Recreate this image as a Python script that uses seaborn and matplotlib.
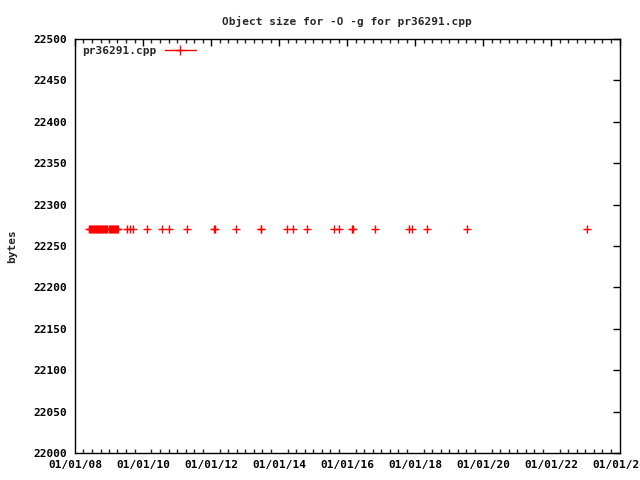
import matplotlib
matplotlib.use("Agg")
import matplotlib.pyplot as plt
import matplotlib.dates as mdates
from matplotlib.lines import Line2D
import seaborn as sns
import pandas as pd

dates = [
    "2008-06-01", "2008-06-11", "2008-06-21", "2008-07-01", "2008-07-11",
    "2008-07-21", "2008-07-31", "2008-08-10", "2008-08-20", "2008-08-30",
    "2008-09-09", "2008-09-19", "2008-09-29", "2008-10-09", "2008-10-19",
    "2008-10-29", "2008-11-08", "2008-11-18", "2008-11-28", "2008-12-10",
    "2009-01-02", "2009-01-12", "2009-01-22", "2009-02-01", "2009-02-11",
    "2009-02-21", "2009-03-03", "2009-03-13", "2009-03-23", "2009-04-10",
    "2009-07-08", "2009-08-14", "2009-09-16",
    "2010-02-10", "2010-07-20", "2010-10-08", "2011-04-20",
    "2012-02-06", "2012-02-12", "2012-09-24",
    "2013-06-18", "2013-06-24",
    "2014-03-28", "2014-06-03", "2014-10-24",
    "2015-08-14", "2015-10-08",
    "2016-02-24", "2016-03-01", "2016-10-20",
    "2017-10-20", "2017-11-24", "2018-05-01",
    "2019-07-08", "2023-01-20",
]
sizes = [22270] * len(dates)

df = pd.DataFrame({"date": pd.to_datetime(dates), "bytes": sizes})

sns.set_theme(style="white")
plt.rcParams["font.family"] = ["DejaVu Sans Mono"]
plt.rcParams["font.weight"] = "bold"
plt.rcParams["font.size"] = 8

fig = plt.figure(figsize=(6.4, 4.8), dpi=100)
ax = fig.add_axes([75 / 640, 1 - 453 / 480, 544.5 / 640, 414 / 480])

sns.scatterplot(data=df, x="date", y="bytes", marker="+", color="red",
                s=32, linewidth=1, ax=ax, legend=False)

ax.set_xlim(pd.Timestamp("2008-01-01"), pd.Timestamp("2024-01-01"))
ax.set_ylim(22000, 22500)
ax.set_yticks(range(22000, 22501, 50))
ax.xaxis.set_major_locator(mdates.YearLocator(2))
ax.xaxis.set_minor_locator(mdates.MonthLocator(bymonth=[1, 4, 7, 10]))
ax.xaxis.set_major_formatter(mdates.DateFormatter("%m/%d/%y"))

for s in ax.spines.values():
    s.set_color("black")
    s.set_linewidth(1)

ax.tick_params(axis="both", which="major", direction="in", length=5, width=1,
               top=True, right=True, labelsize=8, colors="black")
ax.tick_params(axis="y", which="major", pad=6)
ax.tick_params(axis="x", which="major", pad=5)
ax.tick_params(axis="x", which="minor", direction="in", length=3, width=1,
               top=True, bottom=True)
for lbl in ax.get_xticklabels() + ax.get_yticklabels():
    lbl.set_fontweight("bold")

ax.set_xlabel("")
ax.set_ylabel("bytes", fontsize=8, fontweight="bold")
ax.yaxis.set_label_coords((17 - 75) / 544.5, 0.5)
ax.set_title("Object size for -O -g for pr36291.cpp", fontsize=8,
             fontweight="bold", pad=10)

handle = Line2D([0], [0], color="red", linewidth=1, marker="+",
                markersize=7, markeredgewidth=1)
leg = ax.legend([handle], ["pr36291.cpp"], loc="upper left", frameon=False,
                markerfirst=False, handlelength=2.8, borderaxespad=0.2,
                prop={"family": "DejaVu Sans Mono", "weight": "bold", "size": 8})

fig.savefig("out.png", dpi=100)
